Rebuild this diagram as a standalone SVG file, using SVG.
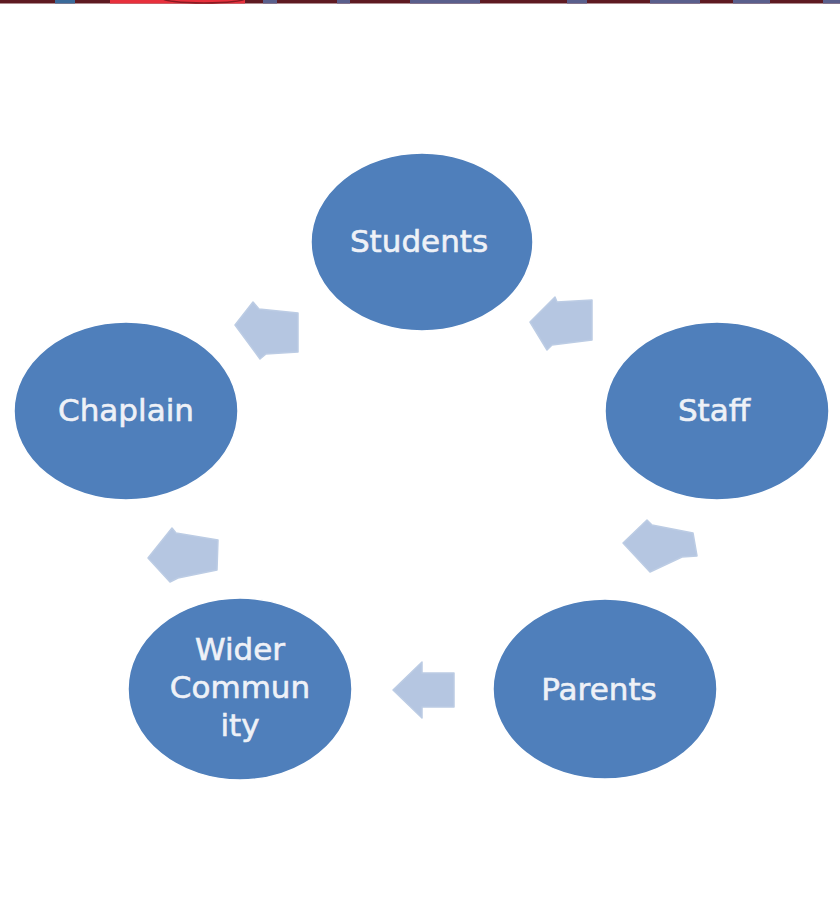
<svg xmlns="http://www.w3.org/2000/svg" width="840" height="923" viewBox="0 0 840 923">
<style>
.node{fill:#4f7fbb;stroke:#ffffff;stroke-width:1.5}
.lbl{font-family:"DejaVu Sans",Verdana,sans-serif;font-size:31px;fill:#eef1f7;stroke:#eef1f7;stroke-width:0.6;text-anchor:middle}
.arr{fill:#b5c6e1;stroke:#bccce4;stroke-width:1.5;stroke-linejoin:round}
.dr{fill:#5e1a22}
.bg{fill:#5a5f8c}
</style>
<rect width="840" height="923" fill="#ffffff"/>
<g id="top-band">
<rect class="dr" x="0" y="0" width="840" height="3.5"/>
<rect x="55" y="0" width="20" height="3.5" fill="#3a6a9a"/>
<rect x="110" y="0" width="135" height="3.5" fill="#e8303c"/>
<ellipse cx="204" cy="-2" rx="42" ry="5" fill="none" stroke="#8a1a22" stroke-width="1.5"/>
<rect class="bg" x="263" y="0" width="14" height="3.5"/>
<rect class="bg" x="337" y="0" width="13" height="3.5"/>
<rect class="bg" x="410" y="0" width="70" height="3.5"/>
<rect class="bg" x="567" y="0" width="20" height="3.5"/>
<rect class="bg" x="650" y="0" width="50" height="3.5"/>
<rect class="bg" x="733" y="0" width="37" height="3.5"/>
<rect class="bg" x="823" y="0" width="17" height="3.5"/>
</g>
<g id="connectors">
<polygon class="arr" points="530,322 555,297 557,302 592,300 592,340 552,345 547,350"/>
<polygon class="arr" points="623,543 647,520 652,525 693,533 697,556 682,557 650,572"/>
<polygon class="arr" points="393,690 422,662 422,673 454,673 454,707 422,707 422,718"/>
<polygon class="arr" points="148,558 172,528 176,533 218,540 217,570 178,578 170,582"/>
<polygon class="arr" points="235,325 253,302 259,309 298,313 298,352 266,354 260,359"/>
</g>
<g id="students">
<ellipse class="node" cx="422" cy="242" rx="111" ry="89"/>
<text class="lbl" x="419" y="252">Students</text>
</g>
<g id="staff">
<ellipse class="node" cx="717" cy="411" rx="112" ry="89"/>
<text class="lbl" x="714" y="421">Staff</text>
</g>
<g id="parents">
<ellipse class="node" cx="605" cy="689" rx="112" ry="90"/>
<text class="lbl" x="599" y="700">Parents</text>
</g>
<g id="wider-community">
<ellipse class="node" cx="240" cy="689" rx="112" ry="91"/>
<text class="lbl" x="240" y="660">Wider</text>
<text class="lbl" x="240" y="698">Commun</text>
<text class="lbl" x="240" y="736">ity</text>
</g>
<g id="chaplain">
<ellipse class="node" cx="126" cy="411" rx="112" ry="89"/>
<text class="lbl" x="126" y="421">Chaplain</text>
</g>
</svg>
